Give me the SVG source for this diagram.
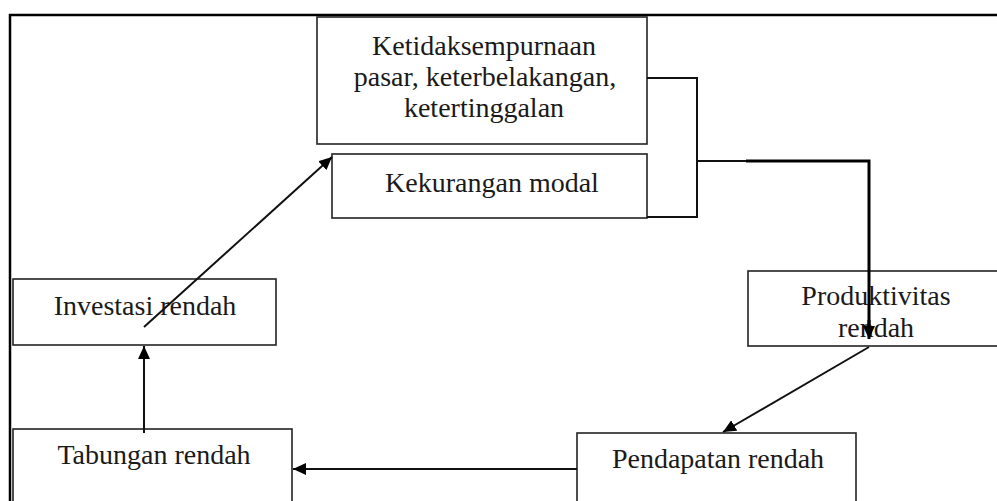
<svg xmlns="http://www.w3.org/2000/svg" width="997" height="501" viewBox="0 0 997 501">
<style>
.box{fill:#fff;stroke:#222;stroke-width:1.6}
.t{font-family:"Liberation Serif","Times New Roman",serif;font-size:28px;fill:#1a1a1a;text-anchor:middle}
.c{fill:none;stroke:#111;stroke-width:2}
.ck{fill:none;stroke:#000;stroke-width:3}
.frame{fill:none;stroke:#000;stroke-width:2.5}
</style>
<defs>
<marker id="ah" markerUnits="userSpaceOnUse" markerWidth="14" markerHeight="12" refX="13" refY="6" orient="auto">
<path d="M0,0 L13,6 L0,12 z" fill="#000"/>
</marker>
</defs>
<rect width="997" height="501" fill="#fff"/>
<path class="frame" d="M10,501 V15 H997"/>

<g id="node-ketidaksempurnaan">
<rect class="box" x="317" y="17" width="330" height="127"/>
<text class="t" x="484" y="55">Ketidaksempurnaan</text>
<text class="t" x="485" y="86">pasar, keterbelakangan,</text>
<text class="t" x="484" y="117">ketertinggalan</text>
</g>
<g id="node-kekurangan">
<rect class="box" x="332" y="154" width="315" height="64"/>
<text class="t" x="492" y="192">Kekurangan modal</text>
</g>
<g id="node-investasi">
<rect class="box" x="13" y="279" width="263" height="66"/>
<text class="t" x="145" y="315">Investasi rendah</text>
</g>
<g id="node-tabungan">
<rect class="box" x="13" y="429" width="279" height="75"/>
<text class="t" x="154" y="464">Tabungan rendah</text>
</g>
<g id="node-pendapatan">
<rect class="box" x="577" y="433" width="279" height="75"/>
<text class="t" x="718" y="468">Pendapatan rendah</text>
</g>
<g id="node-produktivitas">
<rect class="box" x="748" y="271" width="260" height="75"/>
<text class="t" x="876" y="305">Produktivitas</text>
<text class="t" x="876" y="337">rendah</text>
</g>

<g id="connectors">
<path class="c" d="M647,78 H697 V217 H647" stroke-width="1.6"/>
<path class="c" d="M697,161 H748" stroke-width="1.6"/>
<path class="ck" d="M746,161 H869 V326"/>
<line x1="869" y1="320" x2="869" y2="339" stroke="#000" stroke-width="3" marker-end="url(#ah)"/>
<line class="c" x1="869" y1="347" x2="723" y2="432" marker-end="url(#ah)"/>
<line class="c" x1="577" y1="469" x2="293" y2="469" marker-end="url(#ah)"/>
<line class="c" x1="144" y1="433" x2="144" y2="346" stroke-width="2.8" marker-end="url(#ah)"/>
<line class="c" x1="144" y1="327" x2="332" y2="157" marker-end="url(#ah)"/>
</g>
</svg>
